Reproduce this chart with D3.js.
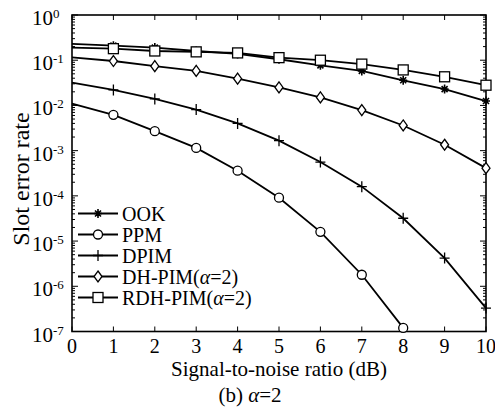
<!DOCTYPE html>
<html>
<head>
<meta charset="utf-8">
<script src="https://cdn.jsdelivr.net/npm/d3@7"></script>
<style>
body { margin: 0; background: #fff; }
text { font-family: "Liberation Serif", "Times New Roman", serif; fill: #000; }
</style>
</head>
<body>
<div id="chart"></div>
<script>
var width = 495, height = 414,
margin = { top: 15, right: 9, bottom: 82.5, left: 72 };

// SNR in dB
var snr = [0, 1, 2, 3, 4, 5, 6, 7, 8, 9, 10];
var snrPPM = [0, 1, 2, 3, 4, 5, 6, 7, 8];
// slot error rate
var ook = [0.23, 0.21, 0.19, 0.16, 0.138, 0.105, 0.077, 0.058, 0.036, 0.023, 0.0125];
var ppm = [0.011, 0.0062, 0.0027, 0.00115, 0.00036, 9.1e-5, 1.6e-5, 1.8e-6, 1.2e-7];
var dpim = [0.032, 0.022, 0.0139, 0.0081, 0.004, 0.00166, 0.00056, 0.00016, 3.2e-5, 4.2e-6, 3.3e-7];
var dhpim = [0.116, 0.096, 0.074, 0.058, 0.039, 0.025, 0.015, 0.0079, 0.0036, 0.00135, 0.00041];
var rdhpim = [0.19, 0.18, 0.16, 0.153, 0.145, 0.114, 0.1, 0.082, 0.061, 0.043, 0.028];
var yExps = [0, -1, -2, -3, -4, -5, -6, -7];

var series = [
    { name: "OOK", x: snr, y: ook, mark: "star" },
    { name: "PPM", x: snrPPM, y: ppm, mark: "circle" },
    { name: "DPIM", x: snr, y: dpim, mark: "plus" },
    { name: "DH-PIM", x: snr, y: dhpim, mark: "diamond" },
    { name: "RDH-PIM", x: snr, y: rdhpim, mark: "square" }
];

var x = d3.scaleLinear().domain([0, 10]).range([margin.left, width - margin.right]);
var y = d3.scaleLog().domain([1e-7, 1]).range([height - margin.bottom, margin.top]);

var svg = d3.select("#chart").append("svg")
    .attr("width", width)
    .attr("height", height);

var x0 = x.range()[0], x1 = x.range()[1], yb = y.range()[0], yt = y.range()[1];

// ticks (inward, both sides)
var tk = svg.append("g").attr("stroke", "#000").attr("stroke-width", 1);
snr.forEach(function (d) {
    tk.append("line").attr("x1", x(d)).attr("x2", x(d)).attr("y1", yb).attr("y2", yb - 5);
    tk.append("line").attr("x1", x(d)).attr("x2", x(d)).attr("y1", yt).attr("y2", yt + 5);
});
yExps.forEach(function (e) {
    var v = Math.pow(10, e);
    tk.append("line").attr("x1", x0).attr("x2", x0 + 6).attr("y1", y(v)).attr("y2", y(v));
    tk.append("line").attr("x1", x1).attr("x2", x1 - 6).attr("y1", y(v)).attr("y2", y(v));
    if (e > -7) {
        for (var m = 2; m <= 9; m++) {
            var yy = y(m * v / 10);
            tk.append("line").attr("x1", x0).attr("x2", x0 + 3).attr("y1", yy).attr("y2", yy);
            tk.append("line").attr("x1", x1).attr("x2", x1 - 3).attr("y1", yy).attr("y2", yy);
        }
    }
});

svg.append("rect")
    .attr("x", x0).attr("y", yt)
    .attr("width", x1 - x0).attr("height", yb - yt)
    .attr("fill", "none").attr("stroke", "#000").attr("stroke-width", 1.6);

// tick labels
svg.selectAll(".xl").data(snr).enter().append("text")
    .attr("x", function (d) { return x(d); })
    .attr("y", yb + 21)
    .attr("text-anchor", "middle")
    .style("font-size", "20px")
    .text(function (d) { return d; });

var yl = svg.selectAll(".yl").data(yExps).enter().append("text")
    .attr("x", 32)
    .attr("y", function (d) { return y(Math.pow(10, d)) + 10; })
    .style("font-size", "21px");
yl.append("tspan").text("10");
yl.append("tspan").attr("dy", -7).style("font-size", "13px")
    .text(function (d) { return d === 0 ? "0" : "-" + Math.abs(d); });

// axis titles
svg.append("text")
    .attr("x", 279).attr("y", 376)
    .attr("text-anchor", "middle").style("font-size", "21px")
    .text("Signal-to-noise ratio (dB)");
svg.append("text")
    .attr("transform", "translate(29,179) rotate(-90)")
    .attr("text-anchor", "middle").style("font-size", "24px")
    .text("Slot error rate");
var cap = svg.append("text")
    .attr("x", 250).attr("y", 402)
    .attr("text-anchor", "middle").style("font-size", "21px");
cap.append("tspan").text("(b) ");
cap.append("tspan").style("font-style", "italic").text("α");
cap.append("tspan").text("=2");

function drawMark(g, type, cx, cy) {
    var p = g.append("g").attr("transform", "translate(" + cx + "," + cy + ")")
        .attr("stroke", "#000").attr("stroke-width", 1.3).attr("fill", "none");
    if (type === "circle") {
        p.append("circle").attr("r", 4.5).attr("fill", "#fff");
    } else if (type === "square") {
        p.append("rect").attr("x", -5).attr("y", -5).attr("width", 10).attr("height", 10).attr("fill", "#fff");
    } else if (type === "diamond") {
        p.append("path").attr("d", "M0,-5.5L4,0L0,5.5L-4,0Z").attr("fill", "#fff");
    } else if (type === "plus") {
        p.append("path").attr("d", "M-5,0H5M0,-5.5V5.5");
    } else if (type === "star") {
        p.append("path").attr("d", "M-4,0H4M0,-4.5V4.5M-3,-3L3,3M-3,3L3,-3").attr("stroke-width", 1.6);
    }
}

var line = d3.line()
    .x(function (d) { return x(d[0]); })
    .y(function (d) { return y(d[1]); });

series.forEach(function (s) {
    var pts = s.x.map(function (v, i) { return [v, s.y[i]]; });
    svg.append("path").datum(pts)
        .attr("d", line)
        .attr("fill", "none").attr("stroke", "#000").attr("stroke-width", 1.8);
});
series.forEach(function (s) {
    var g = svg.append("g");
    s.x.forEach(function (v, i) {
        if (v > 0) drawMark(g, s.mark, x(v), y(s.y[i]));
    });
});

// legend
var lg = svg.append("g");
series.forEach(function (s, i) {
    var ly = 213.5 + i * 21;
    lg.append("line").attr("x1", 78).attr("x2", 118).attr("y1", ly).attr("y2", ly)
        .attr("stroke", "#000").attr("stroke-width", 1.8);
    drawMark(lg, s.mark, 98, ly);
    var t = lg.append("text").attr("x", 122).attr("y", ly + 7).style("font-size", "20px");
    if (s.name.indexOf("PIM") > 0 && s.name !== "DPIM") {
        t.append("tspan").text(s.name + "(");
        t.append("tspan").style("font-style", "italic").text("α");
        t.append("tspan").text("=2)");
    } else {
        t.text(s.name);
    }
});
</script>
</body>
</html>
